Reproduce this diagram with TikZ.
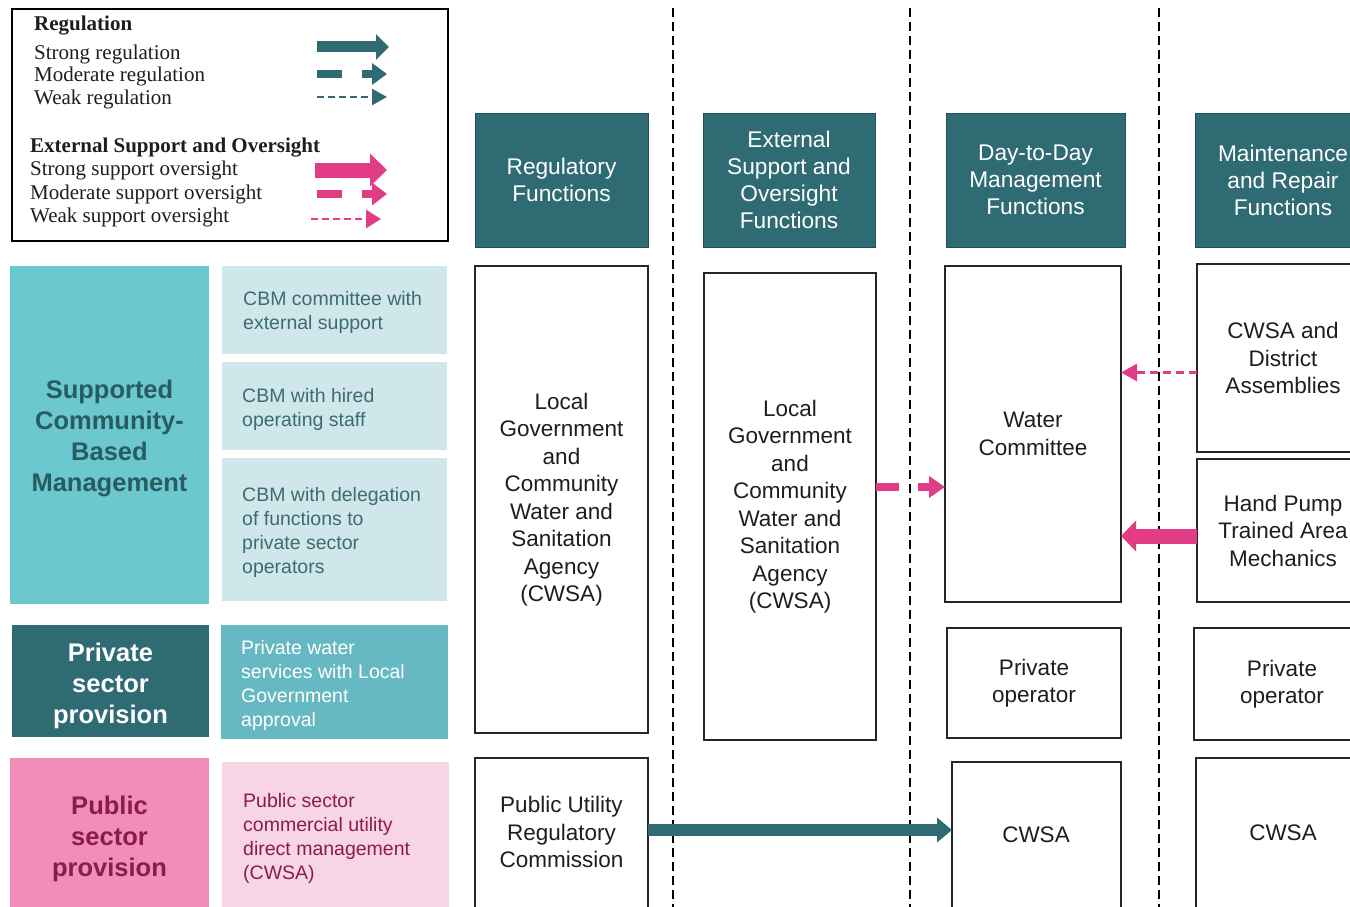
\documentclass[tikz,border=0pt]{standalone}
\usepackage{fontspec}
\setmainfont{Liberation Sans}
\newfontfamily\legserif{Liberation Serif}
\usetikzlibrary{arrows.meta}
\definecolor{tealdark}{RGB}{47,107,114}
\definecolor{turq}{RGB}{107,200,206}
\definecolor{lightblue}{RGB}{207,231,234}
\definecolor{midteal}{RGB}{102,185,194}
\definecolor{pinkc}{RGB}{240,141,184}
\definecolor{lightpink}{RGB}{248,213,229}
\definecolor{magentaA}{RGB}{227,60,135}
\definecolor{darkmag}{RGB}{139,26,80}
\definecolor{cbmsmall}{RGB}{62,107,114}
\definecolor{cbmbig}{RGB}{40,92,98}
\definecolor{boxline}{RGB}{38,38,38}
\definecolor{bodytxt}{RGB}{30,30,30}
\newcommand\myBodyFont{\fontsize{22.5}{27.5}\selectfont}
\newcommand\myHeadFont{\fontsize{22.7}{27}\selectfont}
\newcommand\mySmallFont{\fontsize{19.5}{24}\selectfont}
\newcommand\myBigFont{\fontsize{25.5}{31}\selectfont\bfseries}
\newcommand\myLegFont{\legserif\fontsize{21}{23}\selectfont}
\tikzset{
  sepline/.style={black, line width=1.3pt, dash pattern=on 9pt off 5pt},
  legbox/.style={draw=black, line width=1.5pt, fill=white, inner sep=0pt, outer sep=0pt},
  legt/.style={anchor=west, inner sep=0pt, text=bodytxt, font=\myLegFont, yshift=-2.5pt},
  hbox/.style={fill=tealdark, draw=tealdark!75!black, line width=0.8pt, inner sep=0pt, outer sep=0pt, align=center, text=white, font=\myHeadFont},
  wbox/.style={draw=boxline, line width=1.8pt, fill=white, inner sep=0pt, outer sep=0pt, align=center, text=bodytxt, font=\myBodyFont},
  wtext/.style={inner sep=0pt, align=center, text=bodytxt, font=\myBodyFont},
  cbox/.style={inner sep=0pt, outer sep=0pt, anchor=north west},
  bigtext/.style={inner sep=0pt, align=center, font=\myBigFont},
  ltext/.style={anchor=west, inner sep=0pt, align=left, font=\mySmallFont, yshift=-2pt},
  strongT/.style={tealdark, line width=12pt, -{Triangle[length=15pt,width=24pt]}},
  strongM/.style={magentaA, line width=15pt, -{Triangle[length=15pt,width=30pt]}},
  modM/.style={magentaA, line width=8pt, dash pattern=on 23pt off 19pt on 80pt, -{Triangle[length=16pt,width=21pt]}},
  weakM/.style={magentaA, line width=2.6pt, dash pattern=on 8pt off 5pt, -{Triangle[length=16pt,width=17pt]}},
}
\begin{document}
\begin{tikzpicture}[x=1pt,y=-1pt]
\useasboundingbox (0,0) rectangle (1350,907);
\clip (0,0) rectangle (1350,907);
% column separators
\draw[sepline] (673,8) -- (673,907);
\draw[sepline] (910,8) -- (910,907);
\draw[sepline] (1159,8) -- (1159,907);

% legend
\node[legbox, minimum width=436, minimum height=232, anchor=north west] (legend) at (12,9) {};
\node[legt] (lgReg) at (34,23) {\bfseries Regulation};
\node[legt] (lgRs) at (34,52) {Strong regulation};
\node[legt] (lgRm) at (34,74) {Moderate regulation};
\node[legt] (lgRw) at (34,97) {Weak regulation};
\node[legt] (lgExt) at (30,145) {\bfseries External Support and Oversight};
\node[legt] (lgSs) at (30,168) {Strong support oversight};
\node[legt] (lgSm) at (30,192) {Moderate support oversight};
\node[legt] (lgSw) at (30,215) {Weak support oversight};
\draw[tealdark, line width=11pt, -{Triangle[length=13pt,width=25pt]}] (317,47) -- (389,47);
\draw[tealdark, line width=8pt, dash pattern=on 25pt off 20pt on 60pt, -{Triangle[length=15pt,width=21pt]}] (317,74) -- (387,74);
\draw[tealdark, line width=2.6pt, dash pattern=on 7pt off 4pt, -{Triangle[length=15pt,width=16pt]}] (317,97) -- (387,97);
\draw[magentaA, line width=15pt, -{Triangle[length=17pt,width=32pt]}] (315,170) -- (387,170);
\draw[magentaA, line width=8pt, dash pattern=on 25pt off 20pt on 60pt, -{Triangle[length=15pt,width=22pt]}] (317,194) -- (387,194);
\draw[magentaA, line width=2.6pt, dash pattern=on 7pt off 4pt, -{Triangle[length=15pt,width=18pt]}] (311,219) -- (381,219);

% left column categories
\node[cbox, fill=turq, minimum width=199, minimum height=338] (scbm) at (10,266) {};
\node[bigtext, text=cbmbig] (scbmt) at (109.5,438) {Supported\\Community-\\Based\\Management};
\node[cbox, fill=lightblue, minimum width=225, minimum height=88] (cbm1) at (222,266) {};
\node[ltext, text=cbmsmall] (cbm1t) at (243,310) {CBM committee with\\external support};
\node[cbox, fill=lightblue, minimum width=225, minimum height=88] (cbm2) at (222,362) {};
\node[ltext, text=cbmsmall] (cbm2t) at (242,407.5) {CBM with hired\\operating staff};
\node[cbox, fill=lightblue, minimum width=225, minimum height=143] (cbm3) at (222,458) {};
\node[ltext, text=cbmsmall] (cbm3t) at (242,530) {CBM with delegation\\of functions to\\private sector\\operators};

\node[cbox, fill=tealdark, minimum width=197, minimum height=112] (psp) at (12,625) {};
\node[bigtext, text=white] (pspt) at (110.5,686) {Private\\sector\\provision};
\node[cbox, fill=midteal, minimum width=227, minimum height=114] (pws) at (221,625) {};
\node[ltext, text=white] (pwst) at (241,683) {Private water\\services with Local\\Government\\approval};

\node[cbox, fill=pinkc, minimum width=199, minimum height=157] (pub) at (10,758) {};
\node[bigtext, text=darkmag] (pubt) at (109.5,838.5) {Public\\sector\\provision};
\node[cbox, fill=lightpink, minimum width=227, minimum height=160] (pubc) at (222,762) {};
\node[ltext, text=darkmag] (pubct) at (243,836.5) {Public sector\\commercial utility\\direct management\\(CWSA)};

% headers
\node[hbox, minimum width=173, minimum height=134] (hReg) at (561.5,180) {Regulatory\\Functions};
\node[hbox, minimum width=172, minimum height=134] (hExt) at (789,180) {External\\Support and\\Oversight\\Functions};
\node[hbox, minimum width=179, minimum height=134] (hDay) at (1035.5,180) {Day-to-Day\\Management\\Functions};
\node[hbox, minimum width=176, minimum height=134] (hMnt) at (1283,180) {Maintenance\\and Repair\\Functions};

% column 1
\node[wbox, minimum width=173, minimum height=467] (lg1) at (561.5,499.5) {Local\\Government\\and\\Community\\Water and\\Sanitation\\Agency\\(CWSA)};
\node[wbox, minimum width=173, minimum height=170, anchor=north west] (purc) at (475,758) {};
\node[wtext] (purct) at (561.5,832) {Public Utility\\Regulatory\\Commission};

% column 2
\node[wbox, minimum width=172, minimum height=467] (lg2) at (790,506.5) {Local\\Government\\and\\Community\\Water and\\Sanitation\\Agency\\(CWSA)};

% column 3
\node[wbox, minimum width=176, minimum height=336] (wc) at (1033,434) {Water\\Committee};
\node[wbox, minimum width=174, minimum height=110] (po1) at (1034,683) {Private\\operator};
\node[wbox, minimum width=169, minimum height=170, anchor=north west] (cw1) at (952,762) {};
\node[wtext] (cw1t) at (1036,835) {CWSA};

% column 4
\node[wbox, minimum width=172, minimum height=188] (cda) at (1283,358) {CWSA and\\District\\Assemblies};
\node[wbox, minimum width=172, minimum height=143] (hp) at (1283,530.5) {Hand Pump\\Trained Area\\Mechanics};
\node[wbox, minimum width=176, minimum height=112] (po2) at (1282,684) {Private\\operator};
\node[wbox, minimum width=174, minimum height=170, anchor=north west] (cw2) at (1196,758) {};
\node[wtext] (cw2t) at (1283,833) {CWSA};

% connectors
\coordinate (yMod) at (0,487);
\coordinate (yWeak) at (0,372.5);
\coordinate (yStr) at (0,536);
\coordinate (yReg) at (0,830);
\draw[modM] (lg2.east |- yMod) -- (wc.west |- yMod);
\draw[weakM] (cda.west |- yWeak) -- (wc.east |- yWeak);
\draw[strongM] (hp.west |- yStr) -- (wc.east |- yStr);
\draw[strongT] (purc.east |- yReg) -- (cw1.west |- yReg);
\end{tikzpicture}
\end{document}
